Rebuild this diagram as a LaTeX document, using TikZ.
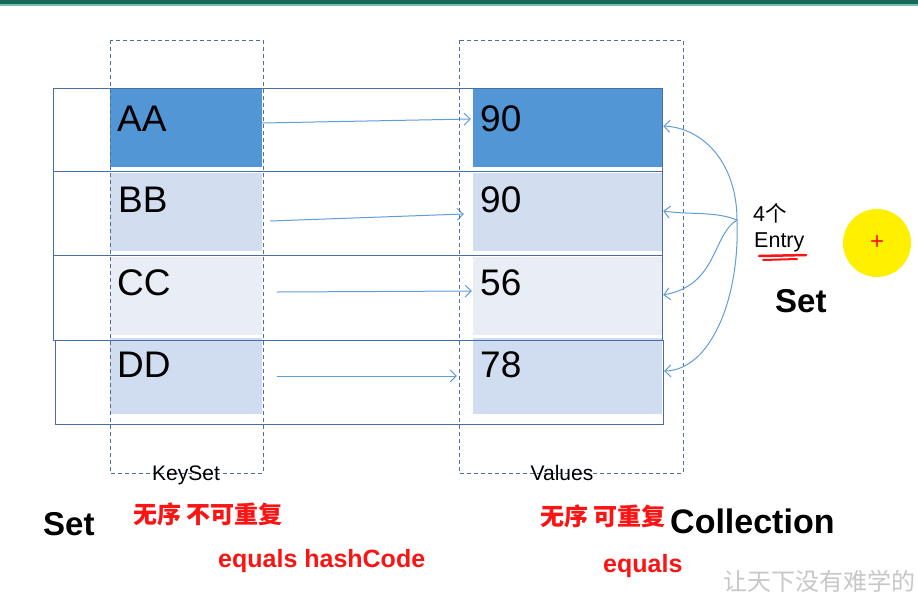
\documentclass[tikz,border=0pt]{standalone}
\usepackage{fontspec}
\setmainfont{Liberation Sans}
\newfontfamily\cjk{Noto Sans CJK SC}
\usetikzlibrary{arrows.meta}

\definecolor{rowline}{RGB}{72,110,162}
\definecolor{dashline}{RGB}{78,112,156}
\definecolor{arrowblue}{RGB}{98,156,218}
\definecolor{cellA}{RGB}{82,150,213}
\definecolor{cellB}{RGB}{210,222,240}
\definecolor{cellC}{RGB}{233,237,246}
\definecolor{cellD}{RGB}{208,220,239}
\definecolor{bartop}{RGB}{22,104,88}
\definecolor{barlow}{RGB}{120,190,170}
\definecolor{markred}{RGB}{250,20,20}
\definecolor{cursorfill}{RGB}{255,240,0}

\begin{document}
\begin{tikzpicture}[x=1pt, y=-1pt, >={Straight Barb[length=6pt,width=12pt]},
	cell/.style={draw=none, minimum height=78pt, inner sep=0pt},
	keycell/.style={cell, minimum width=152pt},
	valcell/.style={cell, minimum width=189pt},
	celltext/.style={anchor=base west, inner sep=0pt, font=\fontsize{37}{40}\selectfont},
	rowbox/.style={draw=rowline, line width=1pt},
	groupbox/.style={draw=dashline, line width=0.9pt, dash pattern=on 4pt off 3pt},
	grouplabel/.style={anchor=base, inner sep=0pt, font=\fontsize{21}{24}\selectfont},
	link/.style={->, draw=arrowblue, line width=1pt},
	bigword/.style={anchor=base west, inner sep=0pt, font=\bfseries\fontsize{33}{36}\selectfont},
	redword/.style={anchor=base west, inner sep=0pt, text=markred, font=\bfseries\fontsize{25}{28}\selectfont},
	redcjk/.style={anchor=west, inner sep=0pt, text=markred, font=\cjk\bfseries\fontsize{24}{26}\selectfont},
	smallword/.style={anchor=base west, inner sep=0pt, font=\fontsize{21.5}{24}\selectfont}]
	% 画布 (按像素坐标, y 向下)
	\clip (0,0) rectangle (918,598);
	\fill[white] (0,0) rectangle (918,598);
	\fill[bartop] (0,0) rectangle (918,4);
	\fill[barlow] (0,4) rectangle (918,6);
	
	% 键与值的格子
	\node[keycell, fill=cellA] (kA) at (186,128) {};
	\node[keycell, fill=cellB] (kB) at (186,212) {};
	\node[keycell, fill=cellC] (kC) at (186,296) {};
	\node[keycell, fill=cellD, minimum height=76pt] (kD) at (186,376) {};
	\node[valcell, fill=cellA] (vA) at (567.5,128) {};
	\node[valcell, fill=cellB] (vB) at (567.5,212) {};
	\node[valcell, fill=cellC] (vC) at (567.5,296) {};
	\node[valcell, fill=cellD, minimum height=76pt] (vD) at (567.5,376) {};
	
	% 四行外框
	\draw[rowbox] (53,88) rectangle (662,171);
	\draw[rowbox] (53,171) rectangle (662,255);
	\draw[rowbox] (53,255) rectangle (662,340);
	\draw[rowbox] (55,340) rectangle (663,424);
	
	% 格内文字
	\node[celltext] (tAA) at (117,131) {AA};
	\node[celltext] (tBB) at (118,212) {BB};
	\node[celltext] (tCC) at (117,295) {CC};
	\node[celltext] (tDD) at (117,377) {DD};
	\node[celltext] (tvA) at (480,131) {90};
	\node[celltext] (tvB) at (480,212) {90};
	\node[celltext] (tvC) at (480,295) {56};
	\node[celltext] (tvD) at (480,377) {78};
	
	% 键 -> 值
	\draw[link] ([yshift=5pt]kA.east) -- ([xshift=-2pt,yshift=9pt]vA.west);
	\draw[link] ([xshift=8pt,yshift=-9pt]kB.east) -- ([xshift=-9pt,yshift=-2pt]vB.west);
	\draw[link] ([xshift=15pt,yshift=4pt]kC.east) -- ([xshift=-1pt,yshift=5pt]vC.west);
	\draw[link] ([xshift=15pt]kD.east) -- ([xshift=-16pt]vD.west);
	
	% KeySet / Values 虚线框
	\draw[groupbox] (110,40) rectangle (263,473);
	\draw[groupbox] (459,40) rectangle (683,473);
	\node[grouplabel] (keyset) at (186,480) {KeySet};
	\node[grouplabel] (values) at (562,480) {Values};
	
	% 4个 Entry
	\coordinate (ent) at (737,220);
	\draw[link] (ent) .. controls (737,165) and (705,128) .. ([xshift=1pt,yshift=2pt]vA.east);
	\draw[link] (ent) .. controls (715,211) and (690,215) .. ([xshift=1pt,yshift=1pt]vB.east);
	\draw[link] (ent) .. controls (712,235) and (718,285) .. ([xshift=1pt,yshift=1pt]vC.east);
	\draw[link] (ent) .. controls (740,300) and (710,370) .. ([xshift=2pt,yshift=5pt]vD.east);
	\node[smallword] (cnt) at (753,221) {4{\cjk 个}};
	\node[smallword] (entry) at (754,247) {Entry};
	\draw[markred, line width=2.5pt, line cap=round] (759,256) -- (806,255);
	\draw[markred, line width=2pt, line cap=round] (763,260) -- (797,259);
	\node[bigword] (setR) at (775,312) {Set};
	
	% 光标
	\node[circle, fill=cursorfill, minimum size=68pt, inner sep=0pt] (cursor) at (877,243) {};
	\node[text=markred, font=\fontsize{24}{24}\selectfont, inner sep=0pt] (plus) at (cursor.center) {+};
	
	% 底部说明
	\node[bigword] (setL) at (43,535) {Set};
	\node[redcjk] (noteK) at (133,514) {无序 不可重复};
	\node[redword] (eqK) at (218,567) {equals hashCode};
	\node[redcjk] (noteV) at (540,516) {无序 可重复};
	\node[bigword, font=\bfseries\fontsize{34}{36}\selectfont] (coll) at (670,533) {Collection};
	\node[redword] (eqV) at (603,572) {equals};
	\node[anchor=west, inner sep=0pt, text=black!22, font=\cjk\fontsize{24}{24}\selectfont] (mark) at (723,581) {让天下没有难学的};
\end{tikzpicture}
\end{document}
